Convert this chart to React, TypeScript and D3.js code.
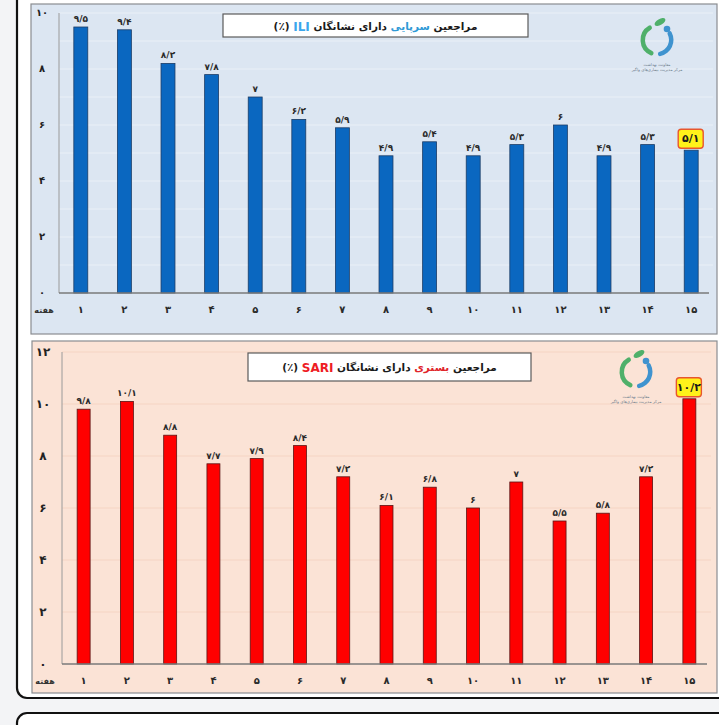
import { useEffect, useRef } from 'react';
import * as d3 from 'd3';

// هفته ۱ تا ۱۵
const WEEKS = d3.range(1, 16);
const ILI_VALUES = [9.5, 9.4, 8.2, 7.8, 7, 6.2, 5.9, 4.9, 5.4, 4.9, 5.3, 6, 4.9, 5.3, 5.1];
const SARI_VALUES = [9.8, 10.1, 8.8, 7.7, 7.9, 8.4, 7.2, 6.1, 6.8, 6, 7, 5.5, 5.8, 7.2, 10.2];
const ILI_TICKS = [0, 2, 4, 6, 8, 10];
const SARI_TICKS = [0, 2, 4, 6, 8, 10, 12];

const FA_DIGITS = '۰۱۲۳۴۵۶۷۸۹';
const fa = (v: number | string) =>
  String(v).replace(/\d/g, (d) => FA_DIGITS[+d]).replace('.', '/');

const FONT = 'DejaVu Sans, sans-serif';

interface PanelOpts {
  x: number;
  y: number;
  w: number;
  h: number;
  bg: string;
  grid: string;
  plotLeft: number;
  plotRight: number;
  plotTop: number;
  baseline: number;
  yMax: number;
  ticks: number[];
  gridStep: number;
  values: number[];
  barColor: string;
  barStroke: string;
  barWidthPad: number;
  title: { text: string; color?: string; bold?: boolean }[];
  titleBox: [number, number, number, number];
  logo: [number, number];
}

function drawPanel(svg: d3.Selection<SVGSVGElement, unknown, null, undefined>, o: PanelOpts) {
  const g = svg.append('g');
  g.append('rect')
    .attr('x', o.x)
    .attr('y', o.y)
    .attr('width', o.w)
    .attr('height', o.h)
    .attr('fill', o.bg)
    .attr('stroke', '#8a8d91')
    .attr('stroke-width', 1.2);

  const yScale = d3.scaleLinear().domain([0, o.yMax]).range([o.baseline, o.plotTop]);
  const xScale = d3.scaleBand<number>().domain(WEEKS).range([o.plotLeft, o.plotRight]).paddingInner(o.barWidthPad).paddingOuter(o.barWidthPad / 2);

  // خطوط شبکه
  const gridVals = d3.range(o.gridStep, o.yMax + 0.001, o.gridStep);
  g.selectAll('line.grid')
    .data(gridVals)
    .join('line')
    .attr('class', 'grid')
    .attr('x1', o.plotLeft)
    .attr('x2', o.plotRight)
    .attr('y1', (d) => yScale(d))
    .attr('y2', (d) => yScale(d))
    .attr('stroke', o.grid)
    .attr('stroke-width', 1);

  // محور عمودی و افقی
  g.append('line')
    .attr('x1', o.plotLeft)
    .attr('x2', o.plotLeft)
    .attr('y1', o.plotTop)
    .attr('y2', o.baseline)
    .attr('stroke', '#9a9a9a')
    .attr('stroke-width', 1);

  g.selectAll('text.ytick')
    .data(o.ticks)
    .join('text')
    .attr('class', 'ytick')
    .attr('x', o.x + 11)
    .attr('y', (d) => yScale(d))
    .attr('text-anchor', 'middle')
    .attr('dominant-baseline', 'middle')
    .attr('fill', '#222')
    .style('font-family', FONT)
    .style('font-weight', 'bold')
    .style('font-size', o.yMax > 10 ? '12px' : '10px')
    .text((d) => fa(d));

  g.selectAll('rect.bar')
    .data(o.values)
    .join('rect')
    .attr('class', 'bar')
    .attr('x', (_, i) => xScale(WEEKS[i])!)
    .attr('y', (d) => yScale(d))
    .attr('width', xScale.bandwidth())
    .attr('height', (d) => o.baseline - yScale(d))
    .attr('fill', o.barColor)
    .attr('stroke', o.barStroke)
    .attr('stroke-width', 0.8);

  g.append('line')
    .attr('x1', o.plotLeft)
    .attr('x2', o.plotRight - 4)
    .attr('y1', o.baseline)
    .attr('y2', o.baseline)
    .attr('stroke', '#7a7a7a')
    .attr('stroke-width', 1.3);

  // برچسب مقادیر
  const last = o.values.length - 1;
  o.values.forEach((v, i) => {
    const cx = xScale(WEEKS[i])! + xScale.bandwidth() / 2;
    const top = yScale(v);
    if (i === last) {
      g.append('rect')
        .attr('x', cx - 13)
        .attr('y', top - 21)
        .attr('width', 25)
        .attr('height', 19)
        .attr('rx', 3)
        .attr('fill', '#fff21a')
        .attr('stroke', '#e8562e')
        .attr('stroke-width', 1.4);
      g.append('text')
        .attr('x', cx - 0.5)
        .attr('y', top - 11)
        .attr('text-anchor', 'middle')
        .attr('dominant-baseline', 'middle')
        .attr('fill', '#1a1a1a')
        .style('font-family', FONT)
        .style('font-weight', 'bold')
        .style('font-size', '11px')
        .text(fa(v));
    } else {
      g.append('text')
        .attr('x', cx)
        .attr('y', top - 5)
        .attr('text-anchor', 'middle')
        .attr('fill', '#2a2a2a')
        .style('font-family', FONT)
        .style('font-weight', 'bold')
        .style('font-size', '9px')
        .text(fa(v));
    }
  });

  // برچسب هفته‌ها
  const labelY = o.baseline + 17;
  g.selectAll('text.xtick')
    .data(WEEKS)
    .join('text')
    .attr('class', 'xtick')
    .attr('x', (d) => xScale(d)! + xScale.bandwidth() / 2)
    .attr('y', labelY)
    .attr('text-anchor', 'middle')
    .attr('dominant-baseline', 'middle')
    .attr('fill', '#2a2a2a')
    .style('font-family', FONT)
    .style('font-weight', 'bold')
    .style('font-size', '10px')
    .text((d) => fa(d));
  g.append('text')
    .attr('x', o.x + 13)
    .attr('y', labelY)
    .attr('text-anchor', 'middle')
    .attr('dominant-baseline', 'middle')
    .attr('fill', '#333')
    .style('font-family', FONT)
    .style('font-weight', 'bold')
    .style('font-size', '8px')
    .text('هفته');

  // عنوان
  const [bx, by, bw, bh] = o.titleBox;
  g.append('rect')
    .attr('x', bx)
    .attr('y', by)
    .attr('width', bw)
    .attr('height', bh)
    .attr('fill', '#ffffff')
    .attr('stroke', '#5a5a5a')
    .attr('stroke-width', 1.2);
  const t = g
    .append('text')
    .attr('x', bx + bw / 2)
    .attr('y', by + bh / 2 + 1)
    .attr('text-anchor', 'middle')
    .attr('dominant-baseline', 'middle')
    .attr('direction', 'rtl')
    .style('font-family', FONT)
    .style('font-weight', 'bold')
    .style('font-size', '10.5px')
    .attr('fill', '#1a1a1a');
  o.title.forEach((p) => {
    const s = t.append('tspan').text(p.text);
    if (p.color) s.attr('fill', p.color);
    if (p.bold) s.style('font-size', '12px');
  });

  drawLogo(g, o.logo[0], o.logo[1]);
}

function drawLogo(g: d3.Selection<SVGGElement, unknown, null, undefined>, cx: number, cy: number) {
  const lg = g.append('g').attr('transform', `translate(${cx},${cy})`);
  const arc = d3.arc<{ s: number; e: number }>().innerRadius(12).outerRadius(16.5).startAngle((d) => d.s).endAngle((d) => d.e).cornerRadius(4);
  lg.append('path').attr('d', arc({ s: Math.PI * 1.08, e: Math.PI * 1.88 })!).attr('fill', '#4fb06a');
  lg.append('path').attr('d', arc({ s: Math.PI * 0.3, e: Math.PI * 0.98 })!).attr('fill', '#3f93cf');
  lg.append('ellipse').attr('cx', 3).attr('cy', -18).attr('rx', 6).attr('ry', 3).attr('transform', 'rotate(-30 3 -18)').attr('fill', '#4fb06a');
  lg.append('circle').attr('cx', 10).attr('cy', -11).attr('r', 3.3).attr('fill', '#3f93cf');
  ['معاونت بهداشت', 'مرکز مدیریت بیماری‌های واگیر'].forEach((s, i) =>
    lg
      .append('text')
      .attr('x', 0)
      .attr('y', 26 + i * 5)
      .attr('text-anchor', 'middle')
      .attr('fill', '#6a7a8a')
      .style('font-family', FONT)
      .style('font-size', '4px')
      .text(s)
  );
}

export default function App() {
  const ref = useRef<SVGSVGElement>(null);

  useEffect(() => {
    if (!ref.current) return;
    const svg = d3.select(ref.current);
    svg.selectAll('*').remove();

    svg.append('rect').attr('width', 719).attr('height', 725).attr('fill', '#f3f4f6');

    // قاب‌های بیرونی
    svg.append('rect')
      .attr('x', 17)
      .attr('y', -20)
      .attr('width', 720)
      .attr('height', 718)
      .attr('rx', 10)
      .attr('fill', '#ffffff')
      .attr('stroke', '#111')
      .attr('stroke-width', 2.2);
    svg.append('rect')
      .attr('x', 17)
      .attr('y', 713)
      .attr('width', 720)
      .attr('height', 60)
      .attr('rx', 10)
      .attr('fill', '#ffffff')
      .attr('stroke', '#111')
      .attr('stroke-width', 2.2);

    drawPanel(svg, {
      x: 31,
      y: 4,
      w: 686,
      h: 330,
      bg: '#dce6f2',
      grid: '#eaf0f7',
      plotLeft: 59,
      plotRight: 713,
      plotTop: 13,
      baseline: 293,
      yMax: 10,
      ticks: ILI_TICKS,
      gridStep: 1,
      values: ILI_VALUES,
      barColor: '#0a67c0',
      barStroke: '#1d3d66',
      barWidthPad: 0.68,
      title: [
        { text: 'مراجعین ' },
        { text: 'سرپایی', color: '#2f9ad6' },
        { text: ' دارای نشانگان ' },
        { text: 'ILI', color: '#3aa6ec', bold: true },
        { text: ' (٪)' },
      ],
      titleBox: [223, 14, 305, 23],
      logo: [657, 40],
    });

    drawPanel(svg, {
      x: 32,
      y: 341,
      w: 685,
      h: 352,
      bg: '#fbe3d6',
      grid: '#f5d4c3',
      plotLeft: 62,
      plotRight: 711,
      plotTop: 352,
      baseline: 664,
      yMax: 12,
      ticks: SARI_TICKS,
      gridStep: 2,
      values: SARI_VALUES,
      barColor: '#ff0000',
      barStroke: '#5a1515',
      barWidthPad: 0.7,
      title: [
        { text: 'مراجعین ' },
        { text: 'بستری', color: '#e0252b' },
        { text: ' دارای نشانگان ' },
        { text: 'SARI', color: '#ee1c24', bold: true },
        { text: ' (٪)' },
      ],
      titleBox: [248, 353, 283, 28],
      logo: [636, 372],
    });
  }, []);

  return (
    <svg
      ref={ref}
      width={719}
      height={725}
      style={{ position: 'absolute', left: 0, top: 0, display: 'block' }}
    />
  );
}
